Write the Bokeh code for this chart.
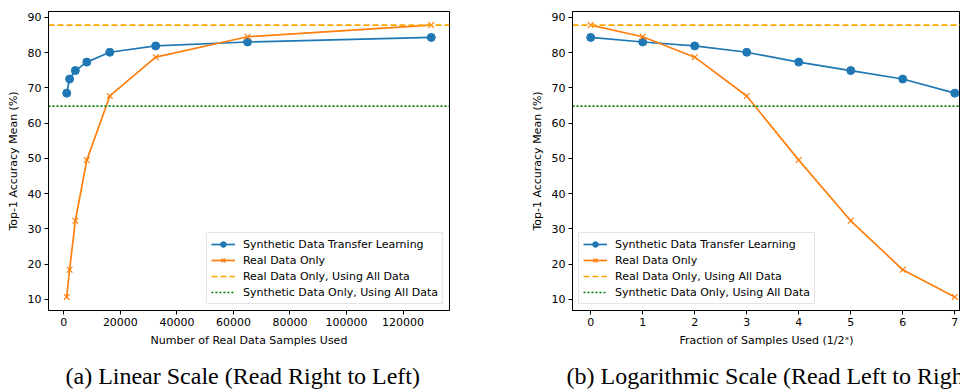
from bokeh.plotting import figure
from bokeh.layouts import row
from bokeh.models import Range1d, FixedTicker, BasicTickFormatter, Title, Legend
from bokeh.embed import file_html
from bokeh.resources import INLINE

# ---- data ----
fraction_exp = [0, 1, 2, 3, 4, 5, 6, 7]
samples = [130000, 65000, 32500, 16250, 8125, 4063, 2031, 1016]
synthetic_transfer = [84.3, 83.0, 81.9, 80.1, 77.3, 74.9, 72.5, 68.5]
real_only = [87.8, 84.5, 78.7, 67.7, 49.5, 32.3, 18.4, 10.7]
real_all = 87.8
synthetic_all = 64.8
y_ticks = [10, 20, 30, 40, 50, 60, 70, 80, 90]
x_ticks_linear = [0, 20000, 40000, 60000, 80000, 100000, 120000]
x_ticks_log = [0, 1, 2, 3, 4, 5, 6, 7]

BLUE = "#1f77b4"
ORANGE = "#ff7f0e"
HL_ORANGE = "#ffa500"
GREEN = "#008000"
FONT = "DejaVu Sans"


def make_fig(xs, x_range, xticks, xlabel, caption, caption_offset,
             legend_loc, border_left, border_right, frame_w):
    p = figure(frame_width=frame_w, frame_height=299, output_backend="svg",
               toolbar_location=None, x_range=x_range, y_range=Range1d(6.845, 91.655),
               min_border_left=border_left, min_border_right=border_right,
               min_border_top=11, min_border_bottom=0)
    p.xgrid.visible = False
    p.ygrid.visible = False
    p.outline_line_color = "black"
    p.outline_line_width = 1
    p.background_fill_color = "white"

    for ax in (p.xaxis[0], p.yaxis[0]):
        ax.major_label_text_font = FONT
        ax.major_label_text_font_size = "11px"
        ax.major_label_text_color = "black"
        ax.axis_label_text_font = FONT
        ax.axis_label_text_font_size = "11px"
        ax.axis_label_text_font_style = "normal"
        ax.axis_label_text_color = "black"
        ax.major_tick_in = 0
        ax.major_tick_out = 4
        ax.minor_tick_in = 0
        ax.minor_tick_out = 0
        ax.axis_line_color = "black"
        ax.major_tick_line_color = "black"
        ax.major_label_standoff = 3
        ax.axis_label_standoff = 5

    p.yaxis[0].ticker = FixedTicker(ticks=y_ticks)
    p.yaxis[0].axis_label = "Top-1 Accuracy Mean (%)"
    p.xaxis[0].ticker = FixedTicker(ticks=xticks)
    p.xaxis[0].formatter = BasicTickFormatter(use_scientific=False)
    p.xaxis[0].axis_label = xlabel

    r1 = p.line(xs, synthetic_transfer, line_color=BLUE, line_width=1.7)
    r1m = p.scatter(xs, synthetic_transfer, marker="circle", size=8,
                    fill_color=BLUE, line_color=BLUE)
    r2 = p.line(xs, real_only, line_color=ORANGE, line_width=1.7)
    r2m = p.scatter(xs, real_only, marker="x", size=8, line_color=ORANGE, line_width=1.2)
    r3 = p.line([x_range.start, x_range.end], [real_all, real_all], line_color=HL_ORANGE,
                line_width=1.7, line_dash="6 3")
    r4 = p.line([x_range.start, x_range.end], [synthetic_all, synthetic_all], line_color=GREEN,
                line_width=1.7, line_dash="2 2")

    legend = Legend(items=[
        ("Synthetic Data Transfer Learning", [r1, r1m]),
        ("Real Data Only", [r2, r2m]),
        ("Real Data Only, Using All Data", [r3]),
        ("Synthetic Data Only, Using All Data", [r4]),
    ], location=legend_loc)
    legend.label_text_font = FONT
    legend.label_text_font_size = "11px"
    legend.label_text_color = "black"
    legend.glyph_width = 24
    legend.glyph_height = 14
    legend.label_height = 14
    legend.spacing = 2
    legend.padding = 4
    legend.margin = 6
    legend.label_standoff = 8
    legend.border_line_color = "#cccccc"
    legend.background_fill_alpha = 0.8
    p.add_layout(legend, "center")

    t = Title(text=caption, align="left", offset=caption_offset,
              text_font="Liberation Serif", text_font_size="24px",
              text_font_style="normal", text_color="black", standoff=22)
    p.add_layout(t, "below")
    return p


p1 = make_fig(samples, Range1d(-5433, 136449), x_ticks_linear,
              "Number of Real Data Samples Used",
              "(a) Linear Scale (Read Right to Left)", 17,
              "bottom_right", 48, 77, 401)
p2 = make_fig(fraction_exp, Range1d(-0.35, 7.11), x_ticks_log,
              "Fraction of Samples Used (1/2ˣ)",
              "(b) Logarithmic Scale (Read Left to Right)", -6,
              "bottom_left", 46, 0, 388)

layout = row(p1, p2)
open("out.html", "w").write(file_html(layout, INLINE))
